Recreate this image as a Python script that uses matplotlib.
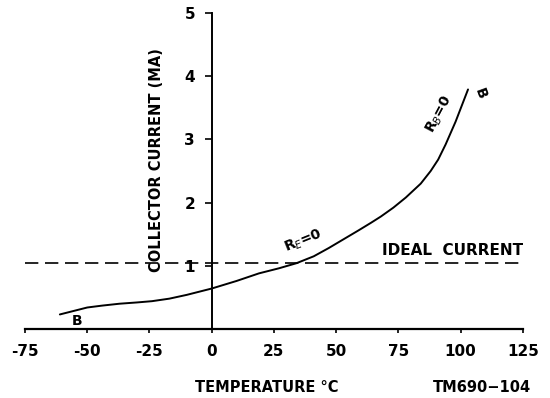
import matplotlib
matplotlib.use("Agg")
import matplotlib.pyplot as plt

# Data
temp_c = [-61, -55, -50, -44, -37, -30, -24, -17, -10, -5, 0, 10, 19, 27, 34, 41, 47, 53, 59, 64, 68, 73, 78, 84, 88, 91, 94, 98, 103]
current_ma = [0.23, 0.29, 0.34, 0.37, 0.40, 0.42, 0.44, 0.48, 0.54, 0.59, 0.64, 0.76, 0.88, 0.96, 1.04, 1.15, 1.28, 1.42, 1.56, 1.68, 1.78, 1.92, 2.08, 2.30, 2.50, 2.68, 2.92, 3.28, 3.79]
ideal_current = 1.05
x_ticks = [-75, -50, -25, 0, 25, 50, 75, 100, 125]
y_ticks = [1, 2, 3, 4, 5]

fig = plt.figure(figsize=(5.5, 3.98), dpi=100)
ax = fig.add_axes([0.0455, 0.1734, 0.905, 0.794])
ax.set_xlim(-75, 125)
ax.set_ylim(0, 5)

fs = 11
fw = "bold"

ax.plot(temp_c, current_ma, color="black", lw=1.4, solid_capstyle="round",
        solid_joinstyle="round")
ax.plot([x_ticks[0], x_ticks[-1]], [ideal_current, ideal_current], color="black",
        lw=1.2, dashes=(8, 4))

# spines
for s in ("top", "right"):
    ax.spines[s].set_visible(False)
ax.spines["left"].set_position(("data", 0))
ax.spines["left"].set_linewidth(1.4)
ax.spines["bottom"].set_linewidth(1.6)

ax.set_xticks(x_ticks)
ax.set_xticklabels([str(v) for v in x_ticks], fontsize=fs, fontweight=fw)
ax.set_yticks(y_ticks)
ax.set_yticklabels([str(v) for v in y_ticks], fontsize=fs, fontweight=fw)
ax.tick_params(axis="x", direction="out", length=3, width=1.2, pad=8)
ax.tick_params(axis="y", direction="out", length=5, width=1.2, pad=7)

# labels
ax.text(-22, 2.68, "COLLECTOR CURRENT (MA)", rotation=90, ha="center", va="center",
        fontsize=10.5, fontweight=fw)
fig.text(267 / 550, 1 - 388 / 398, "TEMPERATURE °C", ha="center", va="center",
         fontsize=10.5, fontweight=fw)
fig.text(482 / 550, 1 - 388 / 398, "TM690−104", ha="center", va="center",
         fontsize=10.5, fontweight=fw)

ax.text(68.5, 1.12, "IDEAL  CURRENT", ha="left", va="bottom", fontsize=fs, fontweight=fw)
ax.text(37, 1.40, r"R$_E$=0", rotation=22, ha="center", va="center", fontsize=10, fontweight=fw)
ax.text(91.5, 3.40, r"R$_B$=0", rotation=62, ha="center", va="center", fontsize=10, fontweight=fw)
ax.text(108, 3.73, "B", rotation=-70, ha="center", va="center", fontsize=10, fontweight=fw)
ax.text(-54, 0.12, "B", ha="center", va="center", fontsize=10, fontweight=fw)

fig.savefig("out.png", dpi=100, facecolor="white")
